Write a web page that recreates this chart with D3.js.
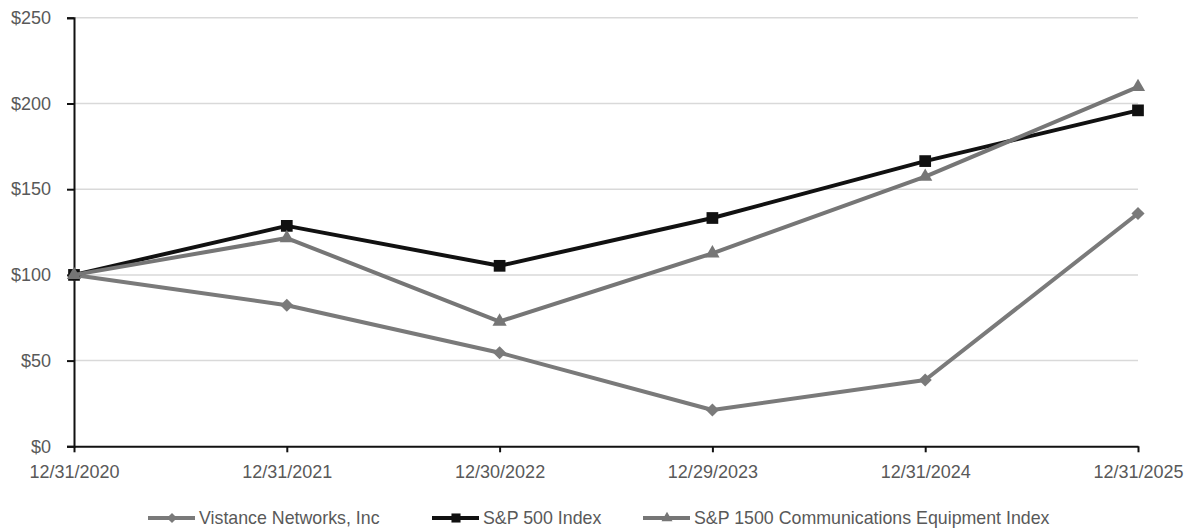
<!DOCTYPE html>
<html>
<head>
<meta charset="utf-8">
<script src="https://cdn.jsdelivr.net/npm/d3@7"></script>
<style>
  body { margin: 0; background: #fff; }
  svg text { font-family: "Liberation Sans", Arial, sans-serif; fill: #595959; }
</style>
</head>
<body>
<svg></svg>
<script>
// chart data
const dates = ["12/31/2020", "12/31/2021", "12/30/2022", "12/29/2023", "12/31/2024", "12/31/2025"];
const vistance = [100, 82.3, 54.6, 21.2, 38.7, 135.8];
const sp500 = [100, 128.6, 105.3, 133.2, 166.4, 196.0];
const commEquip = [100, 121.5, 72.8, 112.6, 157.3, 209.7];
const yTicks = [0, 50, 100, 150, 200, 250];

(function drawChart() {
  const width = 1192, height = 532;
  const svg = d3.select("svg")
      .attr("width", width)
      .attr("height", height);

  const margin = {left: 74, right: 54, top: 17.8, bottom: 85.7};

  const x = d3.scalePoint()
      .domain(dates)
      .range([margin.left, width - margin.right]);

  const y = d3.scaleLinear()
      .domain([0, 250])
      .range([height - margin.bottom, margin.top]);

  // gridlines
  svg.append("g")
      .selectAll("line")
      .data(yTicks.filter(d => d > 0))
      .join("line")
      .attr("x1", margin.left)
      .attr("x2", width - margin.right)
      .attr("y1", d => y(d))
      .attr("y2", d => y(d))
      .attr("stroke", "#d9d9d9")
      .attr("stroke-width", 1.5);

  // y axis
  const yAxis = svg.append("g")
      .attr("transform", `translate(${margin.left},0)`)
      .call(d3.axisLeft(y).tickValues(yTicks).tickSize(7).tickPadding(16)
          .tickFormat(d => "$" + d));
  yAxis.select(".domain").attr("stroke", "#111").attr("stroke-width", 2);
  yAxis.selectAll(".tick line").attr("stroke", "#111").attr("stroke-width", 2);
  yAxis.selectAll("text").style("font-size", "18px").attr("fill", "#595959");

  // x axis
  const xAxis = svg.append("g")
      .attr("transform", `translate(0,${y(0)})`)
      .call(d3.axisBottom(x).tickSize(6).tickSizeOuter(0).tickPadding(13));
  xAxis.select(".domain").attr("stroke", "#111").attr("stroke-width", 2);
  xAxis.selectAll(".tick line").attr("stroke", "#111").attr("stroke-width", 2);
  xAxis.selectAll("text").style("font-size", "18px").attr("fill", "#595959");

  const series = [
    {name: "Vistance Networks, Inc", values: vistance, color: "#7a7a7a", symbol: d3.symbolDiamond2, size: 110},
    {name: "S&P 500 Index", values: sp500, color: "#111111", symbol: d3.symbolSquare2, size: 175},
    {name: "S&P 1500 Communications Equipment Index", values: commEquip, color: "#767676", symbol: d3.symbolTriangle2, size: 145}
  ];

  const line = d3.line()
      .x((d, i) => x(dates[i]))
      .y(d => y(d));

  series.forEach(s => {
    const g = svg.append("g");
    g.append("path")
        .attr("d", line(s.values))
        .attr("fill", "none")
        .attr("stroke", s.color)
        .attr("stroke-width", 4)
        .attr("stroke-linejoin", "round");
    g.selectAll("path.mark")
        .data(s.values)
        .join("path")
        .attr("class", "mark")
        .attr("transform", (d, i) => `translate(${x(dates[i])},${y(d)})`)
        .attr("d", d3.symbol(s.symbol, s.size))
        .attr("fill", s.color);
  });

  // legend
  const legendX = [148, 432, 643];
  const legendY = 518;
  const legend = svg.append("g")
      .selectAll("g")
      .data(series)
      .join("g")
      .attr("transform", (d, i) => `translate(${legendX[i]},${legendY})`);
  legend.append("line")
      .attr("x1", 0).attr("x2", 47)
      .attr("stroke", d => d.color)
      .attr("stroke-width", 4);
  legend.append("path")
      .attr("transform", "translate(24,0)")
      .attr("d", d => d3.symbol(d.symbol, d.size * 0.6)())
      .attr("fill", d => d.color);
  legend.append("text")
      .attr("x", 51)
      .attr("dy", "0.35em")
      .style("font-size", "17.8px")
      .text(d => d.name);
})();
</script>
</body>
</html>
